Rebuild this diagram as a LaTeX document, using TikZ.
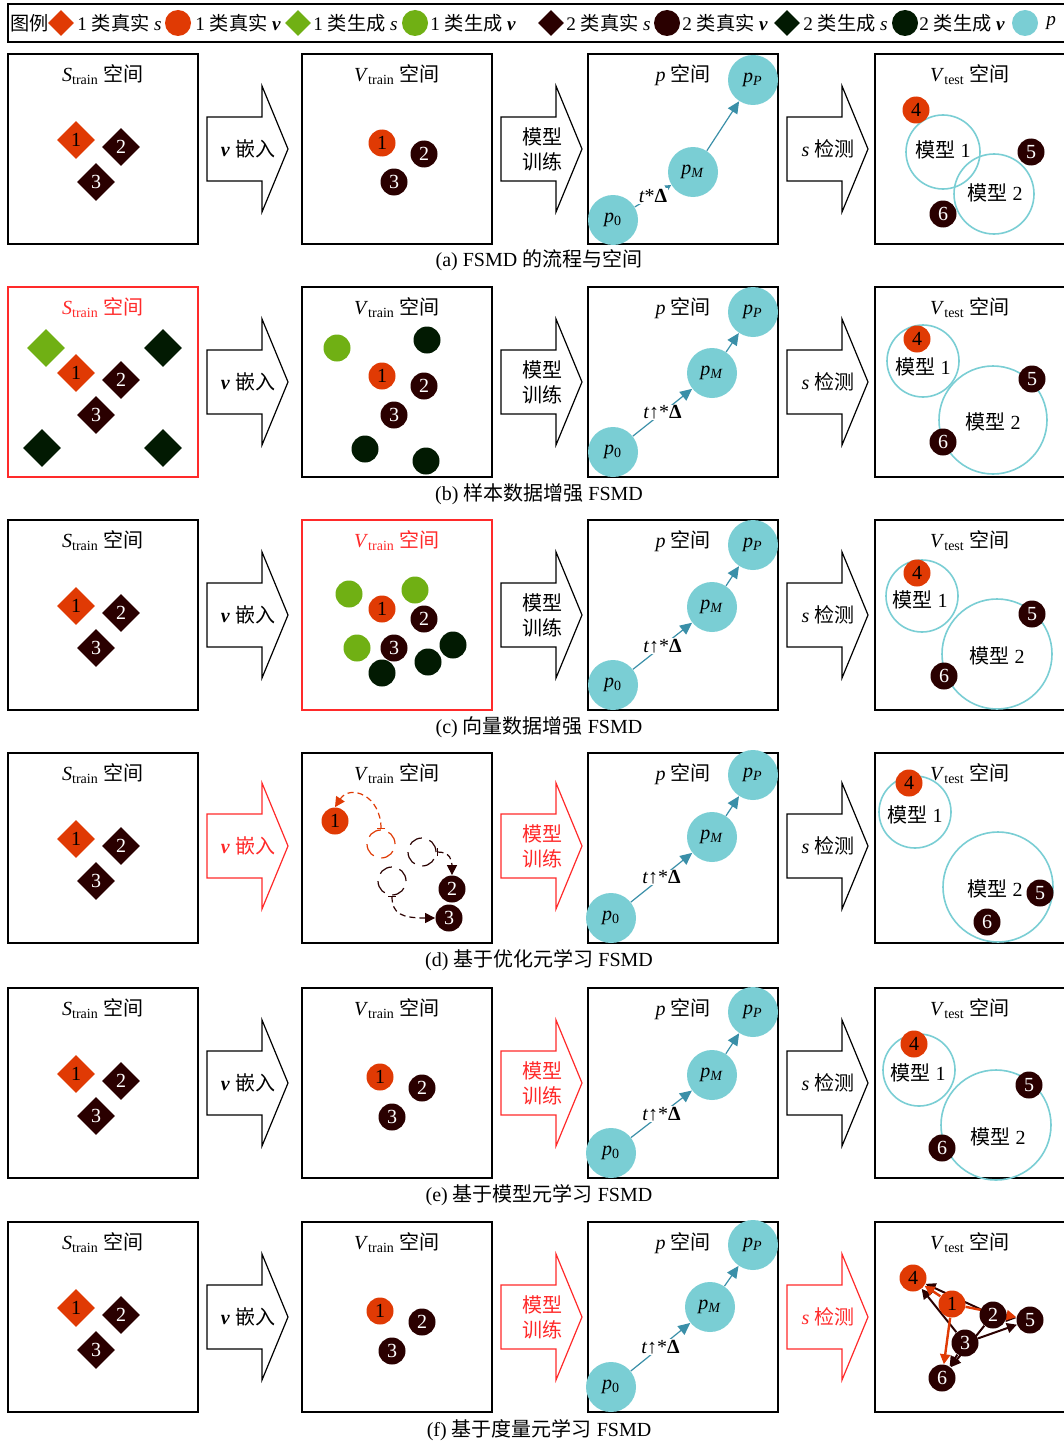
\documentclass[tikz,border=0pt]{standalone}
\usepackage{fontspec}
\setmainfont{Liberation Serif}
\newfontfamily\cjk{Noto Sans CJK SC}
\usetikzlibrary{shapes.geometric,arrows.meta}
\pgfdeclarelayer{back}
\pgfdeclarelayer{bg}
\pgfsetlayers{back,bg,main}
\newcommand\zh[1]{{\cjk #1}}
\definecolor{cOne}{HTML}{E03A04}
\definecolor{cTwo}{HTML}{2A0000}
\definecolor{gOne}{HTML}{70B014}
\definecolor{gTwo}{HTML}{021A02}
\definecolor{pCyan}{HTML}{7ACED4}
\definecolor{pArrow}{HTML}{3A8FA8}
\definecolor{hiRed}{HTML}{FF2A2A}
\newcommand\Str{\textit{S}\textsubscript{train}}
\newcommand\Vtr{\textit{V}\textsubscript{train}}
\newcommand\Vte{\textit{V}\textsubscript{test}}
\newcommand\bfv{\textbf{\textit{v}}}
\newcommand\tlab{\textit{t}↑*\textbf{Δ}}
% #1 name, #2 x, #3 center y, #4 colour, #5 text
\newcommand\blockarr[5]{%
  \draw[draw=#4, line width=0.6pt, fill=white] (#2,#3-32) -- (#2+55,#3-32) -- (#2+55,#3-63) -- (#2+81,#3) -- (#2+55,#3+63) -- (#2+55,#3+32) -- (#2,#3+32) -- cycle;
  \node[text=#4, align=center, font=\fontsize{10}{12.5}\selectfont] (#1) at (#2+41,#3) {#5};}
% #1 name, #2 x, #3 top, #4 width, #5 colour, #6 label
\newcommand\fpanel[6]{%
  \draw[draw=#5, line width=0.6pt] (#2,#3) rectangle ++(#4,190);
  \node[text=#5] (#1) at (#2+95,#3+21) {#6};}
\begin{document}
\begin{tikzpicture}[x=0.5pt,y=-0.5pt,
  every node/.style={font=\fontsize{10}{12}\selectfont, inner sep=1pt},
  leg/.style={anchor=west, font=\fontsize{9.6}{11}\selectfont, inner sep=0.5pt},
  dia/.style={diamond, aspect=1, inner sep=0pt, minimum size=19pt, fill=#1},
  dot/.style={circle, inner sep=0pt, minimum size=13.5pt, fill=#1},
  pn/.style={circle, inner sep=0pt, minimum size=25pt, fill=pCyan},
  mdl/.style={circle, draw=pCyan, line width=0.8pt, inner sep=0pt, minimum size=#1},
  wt/.style={text=white},
  pline/.style={draw=pArrow, line width=0.6pt},
  bighead/.style={-{Triangle[length=6pt,width=5.5pt,color=pArrow]}},
  plab/.style={fill=white, inner sep=0.5pt},
  dcirc/.style={circle, draw=#1, line width=0.6pt, dash pattern=on 7pt off 4pt, minimum size=14pt, inner sep=0pt},
  dasharr/.style={draw=#1, line width=0.6pt, dash pattern=on 3pt off 2pt, {Bar[width=4pt]}-{Triangle[length=5pt,width=5pt]}},
  oarr/.style={draw=cOne, line width=1.2pt, -{Triangle[length=5pt,width=5pt]}},
  karr/.style={draw=cTwo, line width=1pt, -{Triangle[length=5pt,width=5pt]}}
]
\useasboundingbox (0,0) rectangle (1064,1445);
\begin{pgfonlayer}{back}
\fill[white] (0,0) rectangle (1064,1445);
\end{pgfonlayer}

% ---------- legend ----------
\draw[line width=0.6pt] (8,4) rectangle (1080,42);
\node[leg] (lgT) at (9,23) {\zh{图例}};
\node[dia=cOne, minimum size=13pt] (lg1) at (61,23) {};
\node[leg] (lt1) at (76,23) {1 \zh{类真实} \textit{s}};
\node[dot=cOne, minimum size=13pt] (lg2) at (178,23) {};
\node[leg] (lt2) at (194,23) {1 \zh{类真实} \bfv};
\node[dia=gOne, minimum size=13pt] (lg3) at (298,23) {};
\node[leg] (lt3) at (312,23) {1 \zh{类生成} \textit{s}};
\node[dot=gOne, minimum size=13pt] (lg4) at (415,23) {};
\node[leg] (lt4) at (429,23) {1 \zh{类生成} \bfv};
\node[dia=cTwo, minimum size=13pt] (lg5) at (551,23) {};
\node[leg] (lt5) at (565,23) {2 \zh{类真实} \textit{s}};
\node[dot=cTwo, minimum size=13pt] (lg6) at (667,23) {};
\node[leg] (lt6) at (681,23) {2 \zh{类真实} \bfv};
\node[dia=gTwo, minimum size=13pt] (lg7) at (787,23) {};
\node[leg] (lt7) at (802,23) {2 \zh{类生成} \textit{s}};
\node[dot=gTwo, minimum size=13pt] (lg8) at (905,23) {};
\node[leg] (lt8) at (918,23) {2 \zh{类生成} \bfv};
\node[dot=pCyan, minimum size=13pt] (lg9) at (1025,23) {};
\node[leg] (lt9) at (1045,23) {\textit{p}};

% ---------- row a ----------
\fpanel{aSl}{8}{54}{190}{black}{\Str\ \zh{空间}}
\node[dia=cOne] (as1) at (76,140) {1};
\node[dia=cTwo, wt] (as2) at (121,147) {2};
\node[dia=cTwo, wt] (as3) at (96,182) {3};
\blockarr{aA1}{207}{149}{black}{\bfv\ \zh{嵌入}}
\fpanel{aVl}{302}{54}{190}{black}{\Vtr\ \zh{空间}}
\node[dot=cOne] (av1) at (382,143) {1};
\node[dot=cTwo, wt] (av2) at (424,154) {2};
\node[dot=cTwo, wt] (av3) at (394,182) {3};
\blockarr{aA2}{501}{149}{black}{\zh{模型}\\\zh{训练}}
\fpanel{aPl}{588}{54}{190}{black}{\textit{p}\ \zh{空间}}
\node[pn] (ap0) at (613,220) {\textit{p}\textsubscript{0}};
\node[pn] (apM) at (693,172) {\textit{p}\textsubscript{\textit{M}}};
\node[pn] (apP) at (753,80) {\textit{p}\textsubscript{\textit{P}}};
\draw[pline, -{Triangle[length=3pt,width=3pt,color=pArrow]}] (ap0) -- node[plab] (aLab) {\textit{t}*\textbf{Δ}} (apM);
\draw[pline, bighead] (apM) -- (apP);
\blockarr{aA3}{787}{149}{black}{\textit{s}\ \zh{检测}}
\fpanel{aTl}{875}{54}{200}{black}{\Vte\ \zh{空间}}
\node[mdl=37pt] (am1) at (943,152) {};
\node[mdl=40pt] (am2) at (994,194) {};
\node (am1t) at (943,150) {\zh{模型} 1};
\node (am2t) at (995,193) {\zh{模型} 2};
\node[dot=cOne] (at4) at (916,110) {4};
\node[dot=cTwo, wt] (at5) at (1031,152) {5};
\node[dot=cTwo, wt] (at6) at (943,214) {6};
\node (capA) at (539,260) {(a) FSMD \zh{的流程与空间}};

% ---------- row b ----------
\fpanel{bSl}{8}{287}{190}{hiRed}{\Str\ \zh{空间}}
\node[dia=gOne] (bsg1) at (46,348) {};
\node[dia=gTwo] (bsk1) at (163,348) {};
\node[dia=gTwo] (bsk2) at (42,448) {};
\node[dia=gTwo] (bsk3) at (163,448) {};
\node[dia=cOne] (bs1) at (76,373) {1};
\node[dia=cTwo, wt] (bs2) at (121,380) {2};
\node[dia=cTwo, wt] (bs3) at (96,415) {3};
\blockarr{bA1}{207}{382}{black}{\bfv\ \zh{嵌入}}
\fpanel{bVl}{302}{287}{190}{black}{\Vtr\ \zh{空间}}
\node[dot=gOne] (bvg1) at (337,348) {};
\node[dot=gTwo] (bvk1) at (427,340) {};
\node[dot=gTwo] (bvk2) at (365,449) {};
\node[dot=gTwo] (bvk3) at (426,461) {};
\node[dot=cOne] (bv1) at (382,376) {1};
\node[dot=cTwo, wt] (bv2) at (424,386) {2};
\node[dot=cTwo, wt] (bv3) at (394,415) {3};
\blockarr{bA2}{501}{382}{black}{\zh{模型}\\\zh{训练}}
\fpanel{bPl}{588}{287}{190}{black}{\textit{p}\ \zh{空间}}
\node[pn] (bp0) at (613,452) {\textit{p}\textsubscript{0}};
\node[pn] (bpM) at (712,373) {\textit{p}\textsubscript{\textit{M}}};
\node[pn] (bpP) at (753,312) {\textit{p}\textsubscript{\textit{P}}};
\draw[pline, bighead] (bp0) -- node[plab] (bLab) {\tlab} (bpM);
\draw[pline, bighead] (bpM) -- (bpP);
\blockarr{bA3}{787}{382}{black}{\textit{s}\ \zh{检测}}
\fpanel{bTl}{875}{287}{200}{black}{\Vte\ \zh{空间}}
\node[mdl=36pt] (bm1) at (923,361) {};
\node[mdl=54pt] (bm2) at (993,420) {};
\node (bm1t) at (923,367) {\zh{模型} 1};
\node (bm2t) at (993,422) {\zh{模型} 2};
\node[dot=cOne] (bt4) at (917,339) {4};
\node[dot=cTwo, wt] (bt5) at (1032,379) {5};
\node[dot=cTwo, wt] (bt6) at (943,442) {6};
\node (capB) at (539,494) {(b) \zh{样本数据增强} FSMD};

% ---------- row c ----------
\fpanel{cSl}{8}{520}{190}{black}{\Str\ \zh{空间}}
\node[dia=cOne] (cs1) at (76,606) {1};
\node[dia=cTwo, wt] (cs2) at (121,613) {2};
\node[dia=cTwo, wt] (cs3) at (96,648) {3};
\blockarr{cA1}{207}{615}{black}{\bfv\ \zh{嵌入}}
\fpanel{cVl}{302}{520}{190}{hiRed}{\Vtr\ \zh{空间}}
\node[dot=gOne] (cvg1) at (349,594) {};
\node[dot=gOne] (cvg2) at (415,590) {};
\node[dot=gOne] (cvg3) at (357,648) {};
\node[dot=gTwo] (cvk1) at (453,645) {};
\node[dot=gTwo] (cvk2) at (428,662) {};
\node[dot=gTwo] (cvk3) at (382,673) {};
\node[dot=cOne] (cv1) at (382,609) {1};
\node[dot=cTwo, wt] (cv2) at (424,619) {2};
\node[dot=cTwo, wt] (cv3) at (394,648) {3};
\blockarr{cA2}{501}{615}{black}{\zh{模型}\\\zh{训练}}
\fpanel{cPl}{588}{520}{190}{black}{\textit{p}\ \zh{空间}}
\node[pn] (cp0) at (613,685) {\textit{p}\textsubscript{0}};
\node[pn] (cpM) at (712,607) {\textit{p}\textsubscript{\textit{M}}};
\node[pn] (cpP) at (753,545) {\textit{p}\textsubscript{\textit{P}}};
\draw[pline, bighead] (cp0) -- node[plab] (cLab) {\tlab} (cpM);
\draw[pline, bighead] (cpM) -- (cpP);
\blockarr{cA3}{787}{615}{black}{\textit{s}\ \zh{检测}}
\fpanel{cTl}{875}{520}{200}{black}{\Vte\ \zh{空间}}
\node[mdl=36pt] (cm1) at (922,596) {};
\node[mdl=55pt] (cm2) at (997,654) {};
\node (cm1t) at (920,600) {\zh{模型} 1};
\node (cm2t) at (997,656) {\zh{模型} 2};
\node[dot=cOne] (ct4) at (917,573) {4};
\node[dot=cTwo, wt] (ct5) at (1032,614) {5};
\node[dot=cTwo, wt] (ct6) at (944,676) {6};
\node (capC) at (539,727) {(c) \zh{向量数据增强} FSMD};

% ---------- row d ----------
\fpanel{dSl}{8}{753}{190}{black}{\Str\ \zh{空间}}
\node[dia=cOne] (ds1) at (76,839) {1};
\node[dia=cTwo, wt] (ds2) at (121,846) {2};
\node[dia=cTwo, wt] (ds3) at (96,881) {3};
\blockarr{dA1}{207}{846}{hiRed}{\bfv\ \zh{嵌入}}
\fpanel{dVl}{302}{753}{190}{black}{\Vtr\ \zh{空间}}
\node[dot=cOne] (dv1) at (335,821) {1};
\node[dcirc=cOne] (doc) at (381,844) {};
\node[dcirc=cTwo] (ddc1) at (422,852) {};
\node[dcirc=cTwo] (ddc2) at (392,881) {};
\node[dot=cTwo, wt] (dv2) at (452,889) {2};
\node[dot=cTwo, wt] (dv3) at (449,918) {3};
\draw[dasharr=cOne] (doc.north) .. controls (381,795) and (350,784) .. (dv1.north);
\draw[dasharr=cTwo] (ddc1.east) .. controls (450,852) and (452,860) .. (dv2.north);
\draw[dasharr=cTwo] (ddc2.south) .. controls (392,914) and (402,918) .. (dv3.west);
\blockarr{dA2}{501}{846}{hiRed}{\zh{模型}\\\zh{训练}}
\fpanel{dPl}{588}{753}{190}{black}{\textit{p}\ \zh{空间}}
\node[pn] (dp0) at (611,918) {\textit{p}\textsubscript{0}};
\node[pn] (dpM) at (712,837) {\textit{p}\textsubscript{\textit{M}}};
\node[pn] (dpP) at (753,775) {\textit{p}\textsubscript{\textit{P}}};
\draw[pline, bighead] (dp0) -- node[plab] (dLab) {\tlab} (dpM);
\draw[pline, bighead] (dpM) -- (dpP);
\blockarr{dA3}{787}{846}{black}{\textit{s}\ \zh{检测}}
\fpanel{dTl}{875}{753}{200}{black}{\Vte\ \zh{空间}}
\node[mdl=36pt] (dm1) at (915,812) {};
\node[mdl=55pt] (dm2) at (998,887) {};
\node (dm1t) at (915,815) {\zh{模型} 1};
\node (dm2t) at (995,889) {\zh{模型} 2};
\node[dot=cOne] (dt4) at (909,783) {4};
\node[dot=cTwo, wt] (dt5) at (1040,893) {5};
\node[dot=cTwo, wt] (dt6) at (987,922) {6};
\node (capD) at (539,960) {(d) \zh{基于优化元学习} FSMD};

% ---------- row e ----------
\fpanel{eSl}{8}{988}{190}{black}{\Str\ \zh{空间}}
\node[dia=cOne] (es1) at (76,1074) {1};
\node[dia=cTwo, wt] (es2) at (121,1081) {2};
\node[dia=cTwo, wt] (es3) at (96,1116) {3};
\blockarr{eA1}{207}{1083}{black}{\bfv\ \zh{嵌入}}
\fpanel{eVl}{302}{988}{190}{black}{\Vtr\ \zh{空间}}
\node[dot=cOne] (ev1) at (380,1077) {1};
\node[dot=cTwo, wt] (ev2) at (422,1088) {2};
\node[dot=cTwo, wt] (ev3) at (392,1117) {3};
\blockarr{eA2}{501}{1083}{hiRed}{\zh{模型}\\\zh{训练}}
\fpanel{ePl}{588}{988}{190}{black}{\textit{p}\ \zh{空间}}
\node[pn] (ep0) at (611,1153) {\textit{p}\textsubscript{0}};
\node[pn] (epM) at (712,1075) {\textit{p}\textsubscript{\textit{M}}};
\node[pn] (epP) at (753,1012) {\textit{p}\textsubscript{\textit{P}}};
\draw[pline, bighead] (ep0) -- node[plab] (eLab) {\tlab} (epM);
\draw[pline, bighead] (epM) -- (epP);
\blockarr{eA3}{787}{1083}{black}{\textit{s}\ \zh{检测}}
\fpanel{eTl}{875}{988}{200}{black}{\Vte\ \zh{空间}}
\node[mdl=36pt] (em1) at (919,1070) {};
\node[mdl=55pt] (em2) at (996,1125) {};
\node (em1t) at (918,1073) {\zh{模型} 1};
\node (em2t) at (998,1137) {\zh{模型} 2};
\node[dot=cOne] (et4) at (914,1044) {4};
\node[dot=cTwo, wt] (et5) at (1029,1085) {5};
\node[dot=cTwo, wt] (et6) at (942,1148) {6};
\node (capE) at (539,1195) {(e) \zh{基于模型元学习} FSMD};

% ---------- row f ----------
\fpanel{fSl}{8}{1222}{190}{black}{\Str\ \zh{空间}}
\node[dia=cOne] (fs1) at (76,1308) {1};
\node[dia=cTwo, wt] (fs2) at (121,1315) {2};
\node[dia=cTwo, wt] (fs3) at (96,1350) {3};
\blockarr{fA1}{207}{1317}{black}{\bfv\ \zh{嵌入}}
\fpanel{fVl}{302}{1222}{190}{black}{\Vtr\ \zh{空间}}
\node[dot=cOne] (fv1) at (380,1311) {1};
\node[dot=cTwo, wt] (fv2) at (422,1322) {2};
\node[dot=cTwo, wt] (fv3) at (392,1351) {3};
\blockarr{fA2}{501}{1317}{hiRed}{\zh{模型}\\\zh{训练}}
\fpanel{fPl}{588}{1222}{190}{black}{\textit{p}\ \zh{空间}}
\node[pn] (fp0) at (611,1387) {\textit{p}\textsubscript{0}};
\node[pn] (fpM) at (710,1307) {\textit{p}\textsubscript{\textit{M}}};
\node[pn] (fpP) at (753,1245) {\textit{p}\textsubscript{\textit{P}}};
\draw[pline, bighead] (fp0) -- node[plab] (fLab) {\tlab} (fpM);
\draw[pline, bighead] (fpM) -- (fpP);
\blockarr{fA3}{787}{1317}{hiRed}{\textit{s}\ \zh{检测}}
\fpanel{fTl}{875}{1222}{200}{black}{\Vte\ \zh{空间}}
\node[dot=cOne] (ft4) at (913,1278) {4};
\node[dot=cOne] (ft1) at (952,1304) {1};
\node[dot=cTwo, wt] (ft2) at (993,1315) {2};
\node[dot=cTwo, wt] (ft5) at (1030,1320) {5};
\node[dot=cTwo, wt] (ft3) at (965,1343) {3};
\node[dot=cTwo, wt] (ft6) at (942,1378) {6};
\begin{pgfonlayer}{bg}
\draw[karr] (ft2) -- (ft4);
\draw[karr] (ft2) -- (ft5);
\draw[karr] (ft2) -- (ft6);
\draw[karr] (ft3) -- (ft4);
\draw[karr] (ft3) -- (ft5);
\draw[karr] (ft3) -- (ft6);
\draw[oarr] (ft1) -- (ft4);
\draw[oarr] (ft1) -- (ft5);
\draw[oarr] (ft1) -- (ft6);
\end{pgfonlayer}
\node (capF) at (539,1430) {(f) \zh{基于度量元学习} FSMD};
\end{tikzpicture}
\end{document}
